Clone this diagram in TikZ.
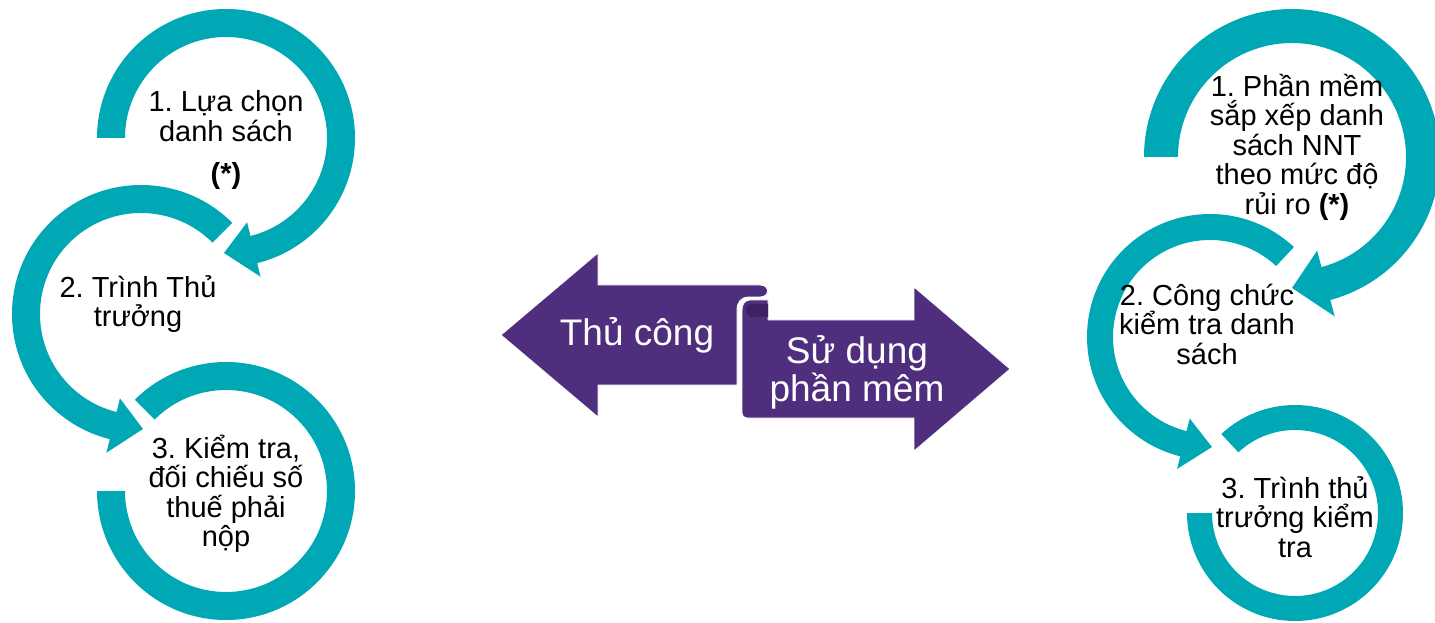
\documentclass[tikz,border=0pt]{standalone}
\usepackage{fontspec}
\setmainfont{Liberation Sans}
\usetikzlibrary{calc}
\frenchspacing
\definecolor{ringteal}{RGB}{0,167,181}
\definecolor{ribbonpurple}{RGB}{80,46,126}
\definecolor{ribbondark}{RGB}{62,34,102}

% thick circular band with an arrowhead at its end
% #1 centre, #2 outer radius, #3 band width, #4 start angle, #5 head base angle, #6 tip angle
\newcommand{\ringarrow}[6]{%
  \pgfmathsetmacro{\rgIn}{#2-#3}%
  \pgfmathsetmacro{\rgMid}{#2-#3/2}%
  \pgfmathsetmacro{\rgHi}{#2-#3/2+#3}%
  \pgfmathsetmacro{\rgLo}{#2-#3/2-#3}%
  \fill[ringteal] ($(#1)+(#4:#2pt)$) arc[start angle=#4, end angle=#5, radius=#2pt]
    -- ($(#1)+(#5:\rgHi pt)$) -- ($(#1)+(#6:\rgMid pt)$) -- ($(#1)+(#5:\rgLo pt)$)
    -- ($(#1)+(#5:\rgIn pt)$) arc[start angle=#5, end angle=#4, radius=\rgIn pt] -- cycle;}

% thick circular band without a head
% #1 centre, #2 outer radius, #3 band width, #4 start angle, #5 end angle
\newcommand{\ringopen}[5]{%
  \pgfmathsetmacro{\rgIn}{#2-#3}%
  \fill[ringteal] ($(#1)+(#4:#2pt)$) arc[start angle=#4, end angle=#5, radius=#2pt]
    -- ($(#1)+(#5:\rgIn pt)$) arc[start angle=#5, end angle=#4, radius=\rgIn pt] -- cycle;}

\begin{document}
\begin{tikzpicture}[x=1pt,y=1pt,
  steptext/.style={font=\fontsize{29}{29.5}\selectfont, align=center, inner sep=0pt, text=black},
  bigtext/.style={font=\fontsize{37}{38}\selectfont, align=center, inner sep=0pt, text=white},
  ribbon/.style={fill=ribbonpurple, draw=white, line width=0.8pt, line join=round}]
\useasboundingbox (0,0) rectangle (1435,622);
\clip (0,0) rectangle (1435,622);

% circle centres
\coordinate (L1) at (226,484);
\coordinate (L2) at (141,308);
\coordinate (L3) at (226,131);
\coordinate (R1) at (1292,465);
\coordinate (R2) at (1210,285);
\coordinate (R3) at (1295,109);

% left cycle: manual procedure
\ringarrow{L1}{129}{28}{180}{-76}{-91}
\ringarrow{L2}{129}{28}{45}{256}{271}
\ringopen{L3}{129}{28}{180}{495}

% right cycle: software procedure
\ringarrow{R1}{148}{34}{180}{-75}{-90}
\ringarrow{R2}{123}{26}{47}{256}{271}
\ringopen{R3}{108}{25}{180}{493}

% left-right ribbon in the middle
\draw[ribbon] (750,322) .. controls (745,322) and (742,318) .. (742,312) -- (742,210)
  .. controls (742,206) and (744,204) .. (748,204) -- (914,204) -- (914,171) -- (1010,253)
  -- (914,335) -- (914,302) -- (768,302) -- (768,322) -- cycle;
\fill[ribbondark] (768,318) -- (751,318) .. controls (746,318) and (745,313) .. (746,310)
  .. controls (747,307) and (749,305) .. (752,305) -- (768,305) -- cycle;
\draw[ribbon] (501,287) -- (598,369) -- (598,337) -- (760,337)
  .. controls (770,337) and (770,325) .. (760,325) -- (749,325)
  .. controls (741,325) and (737,320) .. (737,312) -- (737,237) -- (598,237) -- (598,205) -- cycle;

\node[bigtext] (manual) at (637,287) {Thủ công};
\node[bigtext] (software) at (857,250) {Sử dụng\\phần mêm};

% step labels
\node[steptext] (l1) at (226,506) {1. Lựa chọn\\danh sách};
\node[steptext] (l1star) at (226,446) {\textbf{(*)}};
\node[steptext] (l2) at (138,318) {2. Trình Thủ\\trưởng};
\node[steptext] (l3) at (226,128) {3. Kiểm tra,\\đối chiếu số\\thuế phải\\nộp};

\node[steptext] (r1) at (1297,475) {1. Phần mềm\\sắp xếp danh\\sách NNT\\theo mức độ\\rủi ro \textbf{(*)}};
\node[steptext] (r2) at (1207,298) {2. Công chức\\kiểm tra danh\\sách};
\node[steptext] (r3) at (1295,105) {3. Trình thủ\\trưởng kiểm\\tra};
\end{tikzpicture}
\end{document}
